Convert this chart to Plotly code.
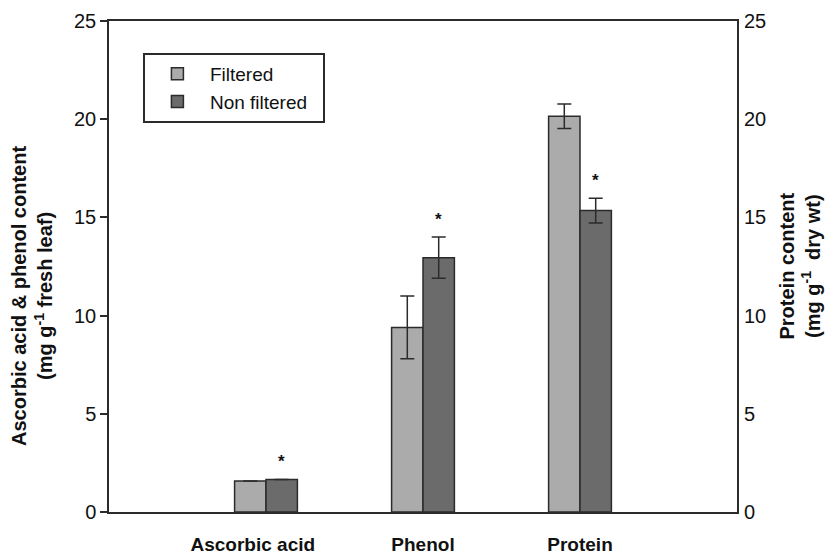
import plotly.graph_objects as go

categories = ["Ascorbic acid", "Phenol", "Protein"]
filtered = [1.58, 9.40, 20.15]
filtered_err = [0.0, 1.60, 0.62]
nonfiltered = [1.65, 12.95, 15.35]
nonfiltered_err = [0.0, 1.05, 0.63]
significant = [True, True, True]  # asterisk over non filtered bars
y_ticks = [0, 5, 10, 15, 20, 25]

xpos = list(range(len(categories)))
INK = "#2b2b2b"
FONT = "Liberation Sans, Arial, sans-serif"

fig = go.Figure()
fig.add_trace(go.Bar(
    name="Filtered", x=xpos, y=filtered,
    marker=dict(color="#ababab", line=dict(color=INK, width=1.5)),
    error_y=dict(type="data", array=filtered_err, color=INK, thickness=1.5, width=7),
))
fig.add_trace(go.Bar(
    name="Non filtered\u00a0\u00a0", x=xpos, y=nonfiltered,
    marker=dict(color="#6b6b6b", line=dict(color=INK, width=1.5)),
    error_y=dict(type="data", array=nonfiltered_err, color=INK, thickness=1.5, width=7),
))
# invisible trace to activate the right axis
fig.add_trace(go.Scatter(x=[xpos[0]], y=[0], yaxis="y2", mode="markers",
                         marker=dict(opacity=0), showlegend=False, hoverinfo="skip"))

annotations = []
for i, sig in enumerate(significant):
    if sig:
        annotations.append(dict(
            x=xpos[i] + 0.1, y=nonfiltered[i] + nonfiltered_err[i] + 0.9,
            xref="x", yref="y", text="<b>*</b>", showarrow=False,
            font=dict(size=17, color="#111", family=FONT), yanchor="middle",
        ))

annotations.append(dict(
    xref="paper", yref="paper", x=0, y=0.44, xshift=-77, xanchor="center", yanchor="middle",
    text="<b>Ascorbic acid &amp; phenol content<br>(mg g<sup>-1</sup> fresh leaf)</b>",
    textangle=-90, showarrow=False, font=dict(size=20, color="#111", family=FONT),
))
annotations.append(dict(
    xref="paper", yref="paper", x=1, y=0.5, xshift=62, xanchor="center", yanchor="middle",
    text="<b>Protein content<br>(mg g<sup>-1</sup>  dry wt)</b>",
    textangle=-90, showarrow=False, font=dict(size=20, color="#111", family=FONT),
))

ticktext = [("<b>" + c + "</b>") for c in categories]
ticktext[0] = "<b>" + categories[0] + "</b>" + "\u00a0" * 5

fig.update_layout(
    width=830, height=560,
    margin=dict(l=109, r=93, t=21, b=48),
    paper_bgcolor="white", plot_bgcolor="white",
    barmode="group", bargap=0.6, bargroupgap=0,
    font=dict(family=FONT, color="#111"),
    showlegend=True,
    legend=dict(
        x=0.054, y=0.935, xanchor="left", yanchor="top",
        bordercolor=INK, borderwidth=2, bgcolor="white",
        font=dict(size=19, family=FONT, color="#111"),
        itemwidth=55, tracegroupgap=0,
    ),
    xaxis=dict(
        range=[-1, 3], tickvals=xpos, ticktext=ticktext,
        showline=True, linecolor=INK, linewidth=1.5, mirror=True,
        ticks="", showgrid=False, zeroline=False, ticklabelstandoff=14,
        automargin=False,
        tickfont=dict(size=19, family=FONT, color="#111"),
    ),
    yaxis=dict(
        range=[0, 25], tickvals=y_ticks,
        showline=True, linecolor=INK, linewidth=1.5, mirror=True,
        ticks="outside", ticklen=7, tickwidth=1.5, tickcolor=INK,
        showgrid=False, zeroline=False, automargin=False,
        tickfont=dict(size=20, family=FONT, color="#111"),
    ),
    yaxis2=dict(
        range=[0, 25], tickvals=y_ticks, overlaying="y", side="right",
        showline=False, ticks="", showgrid=False, zeroline=False, automargin=False,
        tickfont=dict(size=20, family=FONT, color="#111"), ticklabelstandoff=6,
    ),
    annotations=annotations,
)

fig.write_html("out.html")
